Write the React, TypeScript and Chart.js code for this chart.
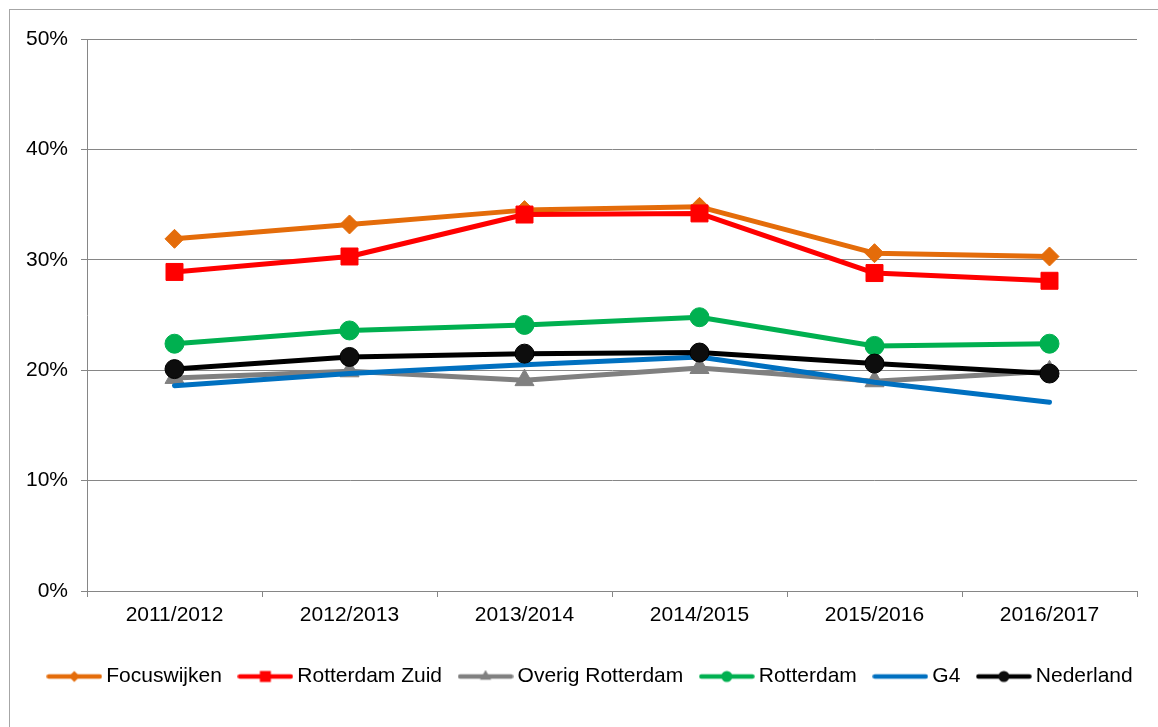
import React, { useEffect, useRef } from "react";
import { Chart, registerables } from "chart.js";

Chart.register(...registerables);

// ---- data ----
const categories = ["2011/2012", "2012/2013", "2013/2014", "2014/2015", "2015/2016", "2016/2017"];
const seriesNames = ["Focuswijken", "Rotterdam Zuid", "Overig Rotterdam", "Rotterdam", "G4", "Nederland"];
const focuswijken = [31.9, 33.2, 34.5, 34.8, 30.6, 30.3];
const rotterdamZuid = [28.9, 30.3, 34.1, 34.2, 28.8, 28.1];
const overigRotterdam = [19.3, 19.9, 19.1, 20.2, 19.0, 19.9];
const rotterdam = [22.4, 23.6, 24.1, 24.8, 22.2, 22.4];
const g4 = [18.6, 19.7, 20.5, 21.2, 18.9, 17.1];
const nederland = [20.1, 21.2, 21.5, 21.6, 20.6, 19.7];
const yTickValues = [0, 10, 20, 30, 40, 50];
const yTickLabels = ["0%", "10%", "20%", "30%", "40%", "50%"];

// ---- styles ----
const FONT = "'Liberation Sans', Arial, sans-serif";
const GRID = "#868686";
const LEGEND_SHIFT = 19.25;
const seriesValues = [focuswijken, rotterdamZuid, overigRotterdam, rotterdam, g4, nederland];
const seriesStyle = [
  { color: "#E46C0A", fill: "#E46C0A", point: "rectRot", radius: 9.5 },
  { color: "#FF0000", fill: "#FF0000", point: "rect", radius: 12 },
  { color: "#808080", fill: "#808080", point: "triangle", radius: 11 },
  { color: "#00B050", fill: "#00B050", point: "circle", radius: 9.5 },
  { color: "#0070C0", fill: "#0070C0", point: "none", radius: 0 },
  { color: "#000000", fill: "#0D0D0D", point: "circle", radius: 9.5 },
];

function makeLegendIcon(color: string, fill: string, point: string): HTMLCanvasElement {
  const c = document.createElement("canvas");
  c.width = 56;
  c.height = 14;
  const ctx = c.getContext("2d")!;
  const cy = 7;
  const cx = 28;
  ctx.strokeStyle = color;
  ctx.lineWidth = 4.5;
  ctx.lineCap = "round";
  ctx.beginPath();
  ctx.moveTo(2.5, cy);
  ctx.lineTo(53.5, cy);
  ctx.stroke();
  ctx.fillStyle = fill;
  ctx.beginPath();
  if (point === "rectRot") {
    const r = 5.5;
    ctx.moveTo(cx, cy - r);
    ctx.lineTo(cx + r, cy);
    ctx.lineTo(cx, cy + r);
    ctx.lineTo(cx - r, cy);
    ctx.closePath();
    ctx.fill();
  } else if (point === "rect") {
    ctx.rect(cx - 5.5, cy - 5.5, 11, 11);
    ctx.fill();
  } else if (point === "triangle") {
    const r = 6.5;
    ctx.moveTo(cx, cy - r);
    ctx.lineTo(cx + r * 0.866, cy + r * 0.5);
    ctx.lineTo(cx - r * 0.866, cy + r * 0.5);
    ctx.closePath();
    ctx.fill();
  } else if (point === "circle") {
    ctx.arc(cx, cy, 5.5, 0, Math.PI * 2);
    ctx.fill();
  }
  return c;
}

const legendShiftPlugin = {
  id: "legendShift",
  afterLayout(chart: any) {
    if (chart.legend) {
      chart.legend.left += LEGEND_SHIFT;
      chart.legend.right += LEGEND_SHIFT;
    }
  },
};

export default function App() {
  const ref = useRef<HTMLCanvasElement | null>(null);

  useEffect(() => {
    if (!ref.current) return;
    const icons = seriesStyle.map((s) => makeLegendIcon(s.color, s.fill, s.point));
    const n = seriesNames.length;
    const chart = new Chart(ref.current, {
      type: "line",
      data: {
        labels: categories,
        datasets: seriesNames.map((name, i) => ({
          label: name,
          data: seriesValues[i],
          order: n - 1 - i,
          borderColor: seriesStyle[i].color,
          backgroundColor: seriesStyle[i].fill,
          borderWidth: 5,
          borderCapStyle: "round" as const,
          borderJoinStyle: "round" as const,
          tension: 0,
          fill: false,
          pointStyle: seriesStyle[i].point === "none" ? false : (seriesStyle[i].point as any),
          pointRadius: seriesStyle[i].radius,
          pointHoverRadius: seriesStyle[i].radius,
          pointBorderWidth: 1,
          pointBorderColor: seriesStyle[i].color,
          pointBackgroundColor: seriesStyle[i].fill,
        })),
      },
      plugins: [legendShiftPlugin],
      options: {
        animation: false,
        responsive: false,
        devicePixelRatio: 1,
        layout: { padding: { left: 0, right: 21, top: 29, bottom: 30 } },
        plugins: {
          tooltip: { enabled: false },
          legend: {
            position: "bottom",
            labels: {
              usePointStyle: true,
              pointStyleWidth: 43,
              boxHeight: 21,
              padding: 22,
              color: "#000",
              font: { family: FONT, size: 21 },
              generateLabels: (ch: any) =>
                ch.data.datasets.map((ds: any, i: number) => ({
                  text: ds.label,
                  fillStyle: seriesStyle[i].color,
                  strokeStyle: seriesStyle[i].color,
                  lineWidth: 0,
                  pointStyle: icons[i],
                  hidden: false,
                  datasetIndex: i,
                  fontColor: "#000",
                })),
            },
          },
        },
        scales: {
          x: {
            type: "category",
            offset: true,
            grid: {
              offset: true,
              drawOnChartArea: false,
              drawTicks: true,
              tickLength: 6,
              color: GRID,
              lineWidth: 1,
            },
            border: { color: GRID, width: 1 },
            ticks: {
              color: "#000",
              font: { family: FONT, size: 21 },
              padding: 6,
              maxRotation: 0,
              autoSkip: false,
            },
            afterFit: (s: any) => {
              s.height = 53;
            },
          },
          y: {
            min: 0,
            max: 50,
            grid: { color: GRID, lineWidth: 1, drawTicks: true, tickLength: 6 },
            border: { color: GRID, width: 1 },
            ticks: {
              stepSize: 10,
              color: "#000",
              padding: 13,
              font: { family: FONT, size: 21 },
              callback: (v: any) => {
                const idx = yTickValues.indexOf(Number(v));
                return idx >= 0 ? yTickLabels[idx] : "";
              },
            },
            afterFit: (s: any) => {
              s.width = 77;
            },
          },
        },
      },
    } as any);
    return () => chart.destroy();
  }, []);

  return (
    <div
      style={{
        position: "absolute",
        left: 9,
        top: 9,
        width: 1149,
        height: 718,
        boxSizing: "border-box",
        borderTop: "1px solid #a6a6a6",
        borderLeft: "1px solid #a6a6a6",
        overflow: "hidden",
        background: "#fff",
      }}
    >
      <canvas ref={ref} width={1148} height={717} style={{ display: "block" }} />
    </div>
  );
}
